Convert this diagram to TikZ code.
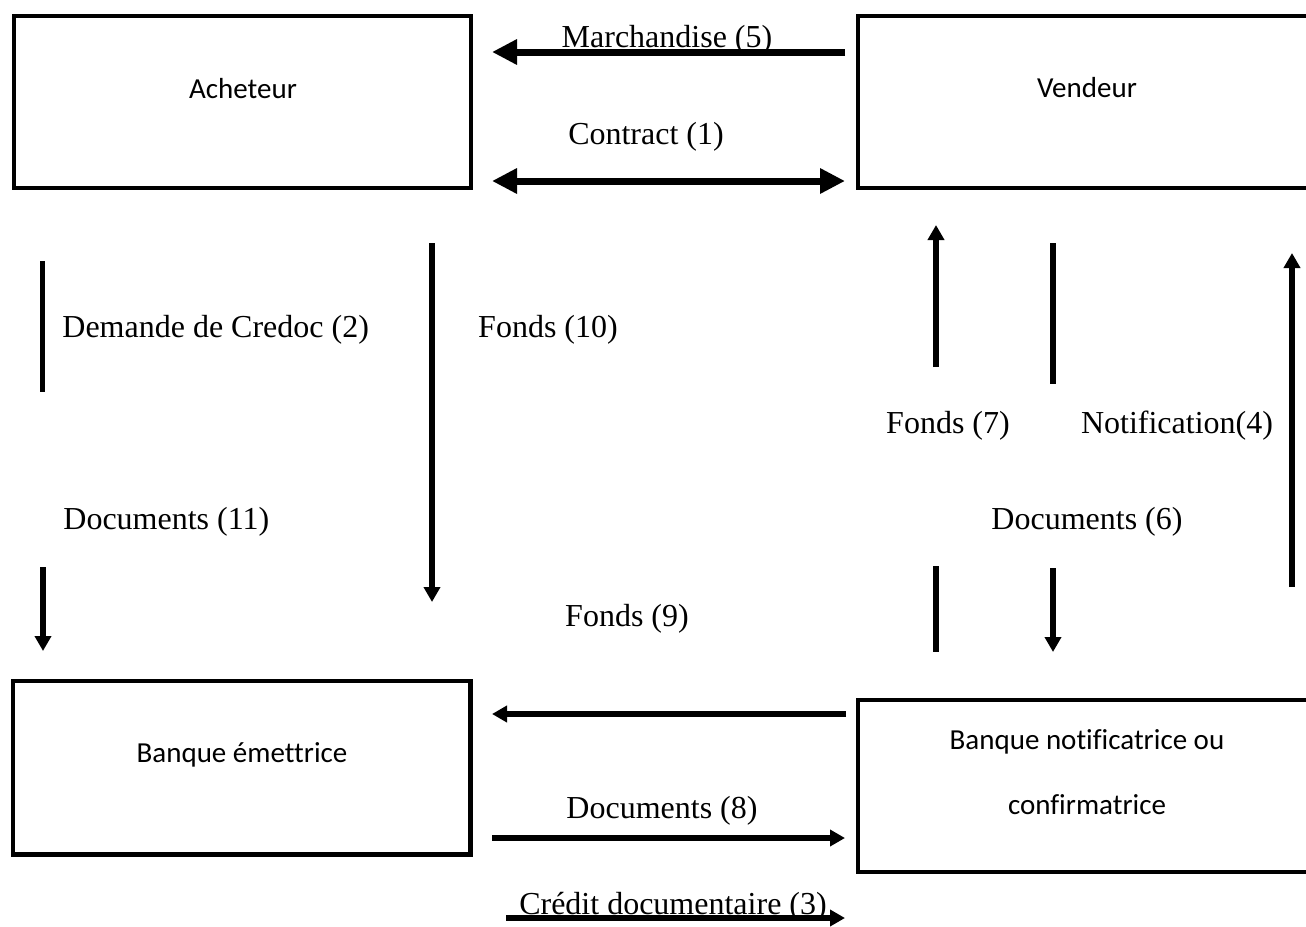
\documentclass[tikz,border=0pt]{standalone}
\usepackage{fontspec}
\setmainfont{Liberation Serif}
\newfontfamily\boxfont[Ligatures=NoCommon]{Carlito}
\usetikzlibrary{arrows.meta,fit}
\begin{document}
\begin{tikzpicture}[x=0.5pt,y=-0.5pt,
  box/.style={draw, line width=2.25pt, inner sep=0pt},
  boxtext/.style={font=\boxfont\fontsize{14.5}{32.5}\selectfont, inner sep=0pt, align=center},
  lbl/.style={font=\fontsize{16}{19}\selectfont, inner sep=0pt},
  thickarr/.style={line width=3.5pt, -{Triangle[length=12.5pt,width=12pt]}},
  thickdbl/.style={line width=3.5pt, {Triangle[length=12.5pt,width=12pt]}-{Triangle[length=12.5pt,width=12pt]}},
  thinarr/.style={line width=2.75pt, -{Triangle[length=7.5pt,width=8pt]}},
  plainline/.style={line width=2.75pt},
]
\useasboundingbox (0,0) rectangle (1306,926);

% boxes
\node[box, fit={(14,16)(471,188)}] (ach) {};
\node[box, fit={(858,16)(1316,188)}] (ven) {};
\node[box, fit={(13,681)(470.5,854.5)}] (bem) {};
\node[box, fit={(858,700)(1316,872)}] (bno) {};

\node[boxtext] (achT) at (243,89) {Acheteur};
\node[boxtext] (venT) at (1087,88) {Vendeur};
\node[boxtext] (bemT) at (242,755) {Banque émettrice};
\node[boxtext] (bnoT) at (1087,772) {Banque notificatrice ou\\confirmatrice};

% labels
\node[lbl] (l5) at (667,40) {Marchandise (5)};
\node[lbl] (l1) at (646,137) {Contract (1)};
\node[lbl, anchor=west] (l2) at (62,330) {Demande de Credoc (2)};
\node[lbl] (l10) at (548,330) {Fonds (10)};
\node[lbl, anchor=west] (l11) at (63,522) {Documents (11)};
\node[lbl] (l9) at (627,619) {Fonds (9)};
\node[lbl] (l7) at (948,426) {Fonds (7)};
\node[lbl] (l4) at (1177,426) {Notification(4)};
\node[lbl] (l6) at (1087,522) {Documents (6)};
\node[lbl] (l8) at (662,811) {Documents (8)};
\node[lbl] (l3) at (673,907) {Crédit documentaire (3)};

% connector end points
\coordinate (m5a) at (845,52);   \coordinate (m5b) at (492,52);
\coordinate (c1a) at (492,181);  \coordinate (c1b) at (845,181);
\coordinate (d2a) at (42.5,261); \coordinate (d2b) at (42.5,392);
\coordinate (d11a) at (43,567);  \coordinate (d11b) at (43,651);
\coordinate (f10a) at (432,243); \coordinate (f10b) at (432,602);
\coordinate (f9a) at (846,714);  \coordinate (f9b) at (492,714);
\coordinate (d8a) at (492,838);  \coordinate (d8b) at (845,838);
\coordinate (c3a) at (506,918);  \coordinate (c3b) at (845,918);
\coordinate (f7a) at (936,367);  \coordinate (f7b) at (936,225);
\coordinate (f7c) at (936,566);  \coordinate (f7d) at (936,652);
\coordinate (d6a) at (1053,243); \coordinate (d6b) at (1053,384);
\coordinate (d6c) at (1053,568); \coordinate (d6d) at (1053,652);
\coordinate (n4a) at (1292,587); \coordinate (n4b) at (1292,253);

% connectors
\draw[thickarr] (m5a) -- (m5b);
\draw[thickdbl] (c1a) -- (c1b);
\draw[plainline] (d2a) -- (d2b);
\draw[thinarr] (d11a) -- (d11b);
\draw[thinarr] (f10a) -- (f10b);
\draw[thinarr] (f9a) -- (f9b);
\draw[thinarr] (d8a) -- (d8b);
\draw[thinarr] (c3a) -- (c3b);
\draw[thinarr] (f7a) -- (f7b);
\draw[plainline] (f7c) -- (f7d);
\draw[plainline] (d6a) -- (d6b);
\draw[thinarr] (d6c) -- (d6d);
\draw[thinarr] (n4a) -- (n4b);
\end{tikzpicture}
\end{document}
